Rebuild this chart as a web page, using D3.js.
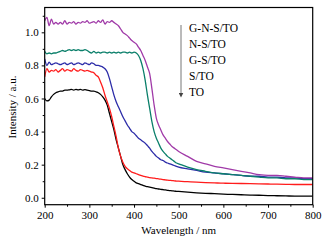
<!DOCTYPE html>
<html>
<head>
<meta charset="utf-8">
<script src="https://cdn.jsdelivr.net/npm/d3@7"></script>
<style>
  body { margin: 0; background: #fff; }
  svg text { font-family: "Liberation Serif", "DejaVu Serif", serif; fill: #000; }
</style>
</head>
<body>
<div id="chart"></div>
<script>
// wavelengths (nm): 5 nm steps to 500, then 20 nm steps
var wavelength = [200,205,210,215,220,225,230,235,240,245,250,255,260,265,270,275,280,285,290,295,
  300,305,310,315,320,325,330,335,340,345,350,355,360,365,370,375,380,385,390,395,
  400,405,410,415,420,425,430,435,440,445,450,455,460,465,470,475,480,485,490,495,500,
  520,540,560,580,600,620,640,660,680,700,720,740,760,780,800];

var gnsTO = [1.07,1.09,1.04,1.08,1.05,1.06,1.05,1.06,1.05,1.07,1.05,1.06,1.055,1.065,1.05,1.06,1.055,1.065,1.06,1.07,
  1.055,1.06,1.065,1.055,1.07,1.06,1.075,1.05,1.065,1.06,1.07,1.06,1.05,1.04,1.02,1.00,0.99,0.98,0.965,0.95,
  0.94,0.93,0.91,0.89,0.86,0.83,0.79,0.75,0.66,0.56,0.48,0.44,0.41,0.38,0.36,0.34,0.325,0.31,0.30,0.29,0.28,
  0.25,0.22,0.205,0.19,0.18,0.17,0.16,0.15,0.14,0.135,0.135,0.13,0.125,0.12,0.12];

var nsTO = [0.885,0.87,0.875,0.87,0.875,0.875,0.88,0.885,0.89,0.885,0.89,0.895,0.89,0.895,0.89,0.895,0.89,0.89,0.895,0.89,
  0.88,0.875,0.885,0.875,0.88,0.875,0.88,0.88,0.875,0.88,0.875,0.88,0.875,0.88,0.875,0.88,0.88,0.875,0.88,0.875,
  0.88,0.875,0.86,0.83,0.78,0.71,0.62,0.54,0.46,0.40,0.36,0.33,0.30,0.28,0.265,0.25,0.24,0.23,0.22,0.21,0.205,
  0.185,0.17,0.16,0.15,0.145,0.14,0.135,0.13,0.125,0.12,0.12,0.115,0.115,0.11,0.11];

var gsTO = [0.84,0.80,0.82,0.805,0.81,0.815,0.81,0.805,0.81,0.815,0.805,0.81,0.815,0.805,0.81,0.815,0.81,0.805,0.815,0.81,
  0.805,0.815,0.81,0.80,0.80,0.795,0.79,0.78,0.76,0.72,0.67,0.62,0.58,0.55,0.52,0.49,0.465,0.44,0.42,0.40,
  0.39,0.375,0.36,0.35,0.34,0.33,0.315,0.30,0.28,0.265,0.25,0.24,0.23,0.225,0.215,0.21,0.205,0.20,0.195,0.19,0.185,
  0.175,0.165,0.155,0.15,0.145,0.14,0.135,0.13,0.13,0.125,0.125,0.12,0.12,0.115,0.115];

var sTO = [0.73,0.78,0.76,0.77,0.765,0.775,0.76,0.77,0.78,0.765,0.775,0.77,0.765,0.78,0.77,0.765,0.775,0.77,0.765,0.77,
  0.765,0.76,0.755,0.74,0.73,0.70,0.665,0.62,0.58,0.54,0.49,0.43,0.37,0.30,0.25,0.215,0.19,0.175,0.165,0.155,
  0.15,0.145,0.14,0.135,0.13,0.127,0.125,0.122,0.12,0.118,0.116,0.114,0.112,0.11,0.108,0.106,0.105,0.104,0.102,0.101,0.10,
  0.097,0.094,0.092,0.09,0.088,0.087,0.086,0.085,0.084,0.083,0.082,0.081,0.08,0.08,0.08];

var tO = [0.60,0.585,0.59,0.61,0.625,0.635,0.64,0.645,0.645,0.65,0.65,0.652,0.655,0.65,0.655,0.652,0.655,0.65,0.653,0.65,
  0.648,0.645,0.645,0.64,0.635,0.625,0.61,0.59,0.56,0.51,0.46,0.41,0.35,0.30,0.25,0.20,0.17,0.145,0.125,0.11,
  0.10,0.09,0.085,0.08,0.075,0.07,0.067,0.064,0.061,0.058,0.055,0.053,0.051,0.049,0.047,0.045,0.043,0.042,0.04,0.039,0.038,
  0.034,0.03,0.027,0.025,0.022,0.02,0.018,0.016,0.015,0.013,0.012,0.011,0.01,0.01,0.01];

var seriesNames = ["G-N-S/TO", "N-S/TO", "G-S/TO", "S/TO", "TO"];
var seriesValues = [gnsTO, nsTO, gsTO, sTO, tO];
var seriesColors = ["#a03aa8", "#0a7f6a", "#2c2ca8", "#ff1c1c", "#000000"];

var xMajor = [200, 300, 400, 500, 600, 700, 800];
var xMinor = [250, 350, 450, 550, 650, 750];
var yMajor = [0.0, 0.2, 0.4, 0.6, 0.8, 1.0];
var yMinor = [0.1, 0.3, 0.5, 0.7, 0.9, 1.1];

var W = 329, H = 242;
// plot frame edges (window.top is reserved, so prefixed names)
var pL = 44.7, pR = 312.7, pT = 7.5, pB = 204.7;

var x = d3.scaleLinear().domain([200, 800]).range([pL, pR]);
var y = d3.scaleLinear().domain([-0.042, 1.15]).range([pB, pT]);

var svg = d3.select("#chart").append("svg")
  .attr("width", W)
  .attr("height", H);

// axes
svg.append("g")
  .attr("transform", "translate(0," + pB + ")")
  .call(d3.axisBottom(x).tickValues(xMajor).tickSize(3).tickPadding(4).tickFormat(d3.format("d")));
svg.append("g")
  .attr("transform", "translate(0," + pB + ")")
  .call(d3.axisBottom(x).tickValues(xMinor).tickSize(2).tickFormat(""));
svg.append("g")
  .attr("transform", "translate(" + pL + ",0)")
  .call(d3.axisLeft(y).tickValues(yMajor).tickSize(3).tickPadding(3).tickFormat(d3.format(".1f")));
svg.append("g")
  .attr("transform", "translate(" + pL + ",0)")
  .call(d3.axisLeft(y).tickValues(yMinor).tickSize(2).tickFormat(""));

svg.selectAll(".domain").remove();
svg.selectAll(".tick line").attr("stroke", "#000").attr("stroke-width", 1);
svg.selectAll(".tick text").style("font-size", "11px").attr("fill", "#000");

// curves
var line = d3.line()
  .x(function(d, i) { return x(wavelength[i]); })
  .y(function(d) { return y(d); })
  .curve(d3.curveMonotoneX);

svg.append("defs").append("clipPath").attr("id", "plotclip")
  .append("rect").attr("x", pL).attr("y", pT)
  .attr("width", pR - pL).attr("height", pB - pT);

var curves = svg.append("g").attr("clip-path", "url(#plotclip)");
// draw bottom series first so purple sits on top
seriesValues.slice().reverse().forEach(function(vals, k) {
  var idx = seriesValues.length - 1 - k;
  curves.append("path")
    .datum(vals)
    .attr("fill", "none")
    .attr("stroke", seriesColors[idx])
    .attr("stroke-width", 1.3)
    .attr("stroke-linejoin", "round")
    .attr("d", line);
});

// frame
svg.append("rect")
  .attr("x", pL).attr("y", pT)
  .attr("width", pR - pL).attr("height", pB - pT)
  .attr("fill", "none")
  .attr("stroke", "#000")
  .attr("stroke-width", 1.2);

// legend: arrow + names
var legX = 181, legTop = 25, legStep = 16.1;
svg.append("defs").append("marker")
  .attr("id", "arrowhead")
  .attr("viewBox", "0 0 10 10")
  .attr("refX", 5).attr("refY", 5)
  .attr("markerWidth", 5).attr("markerHeight", 5)
  .attr("orient", "auto")
  .append("path").attr("d", "M0,0 L10,5 L0,10 z").attr("fill", "#444");

svg.append("line")
  .attr("x1", legX).attr("x2", legX)
  .attr("y1", legTop).attr("y2", legTop + 70)
  .attr("stroke", "#777")
  .attr("stroke-width", 1)
  .attr("marker-end", "url(#arrowhead)");

svg.selectAll(".leg")
  .data(seriesNames)
  .enter().append("text")
  .attr("class", "leg")
  .attr("x", legX + 8)
  .attr("y", function(d, i) { return 31.5 + i * legStep; })
  .style("font-size", "11.5px")
  .text(function(d) { return d; });

// axis titles
svg.append("text")
  .attr("x", (pL + pR) / 2)
  .attr("y", 234)
  .attr("text-anchor", "middle")
  .style("font-size", "11px")
  .text("Wavelength / nm");

svg.append("text")
  .attr("transform", "translate(16,107) rotate(-90)")
  .attr("text-anchor", "middle")
  .style("font-size", "11px")
  .text("Intensity / a.u.");
</script>
</body>
</html>
